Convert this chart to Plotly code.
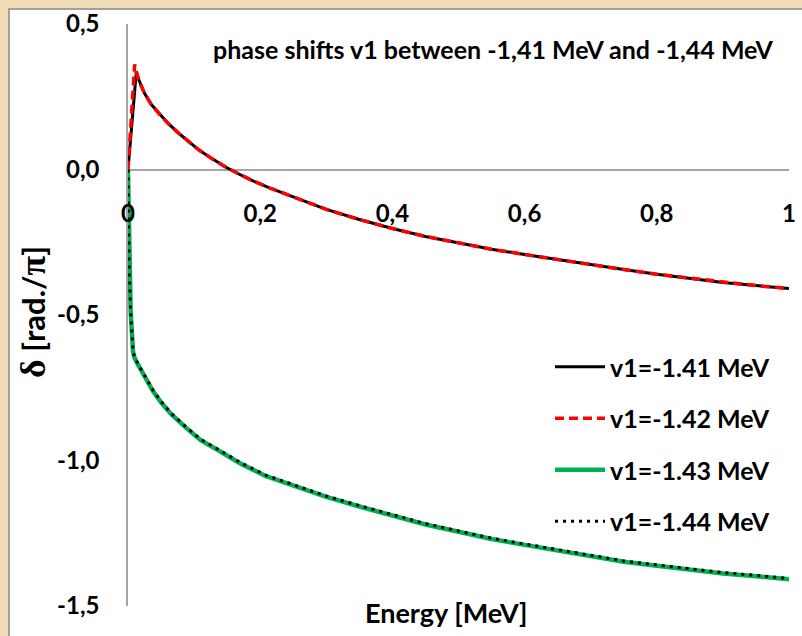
import plotly.graph_objects as go

# ---------------- data ----------------
e_141 = [0, 0.004, 0.008, 0.0127, 0.016, 0.02, 0.025, 0.035, 0.048, 0.06, 0.078, 0.09,
         0.108, 0.125, 0.149, 0.17, 0.189, 0.214, 0.25, 0.3, 0.35, 0.4, 0.45, 0.5, 0.55,
         0.6, 0.65, 0.7, 0.75, 0.8, 0.85, 0.9, 0.95, 1.0]
d_141 = [0, 0.11, 0.22, 0.338, 0.31, 0.287, 0.262, 0.224, 0.189, 0.16, 0.122, 0.099,
         0.066, 0.04, 0.007, -0.018, -0.039, -0.063, -0.095, -0.137, -0.172, -0.203,
         -0.23, -0.253, -0.274, -0.292, -0.31, -0.327, -0.344, -0.36, -0.374, -0.388,
         -0.399, -0.409]

e_142 = [0, 0.003, 0.006, 0.0101, 0.013, 0.016, 0.02, 0.025, 0.035, 0.048, 0.06, 0.078,
         0.09, 0.108, 0.125, 0.149, 0.17, 0.189, 0.214, 0.25, 0.3, 0.35, 0.4, 0.45, 0.5,
         0.55, 0.6, 0.65, 0.7, 0.75, 0.8, 0.85, 0.9, 0.95, 1.0]
d_142 = [0, 0.11, 0.22, 0.361, 0.33, 0.31, 0.287, 0.262, 0.224, 0.189, 0.16, 0.122,
         0.099, 0.066, 0.04, 0.007, -0.018, -0.039, -0.063, -0.095, -0.137, -0.172,
         -0.203, -0.23, -0.253, -0.274, -0.292, -0.31, -0.327, -0.344, -0.36, -0.374,
         -0.388, -0.399, -0.409]

e_143 = [0, 0.0015, 0.004, 0.0076, 0.010, 0.015, 0.02, 0.03, 0.038, 0.05, 0.065, 0.088,
         0.11, 0.139, 0.17, 0.209, 0.25, 0.3, 0.35, 0.4, 0.45, 0.5, 0.55, 0.6, 0.65, 0.7,
         0.75, 0.8, 0.85, 0.9, 0.95, 1.0]
d_143 = [0, -0.315, -0.487, -0.625, -0.648, -0.67, -0.69, -0.73, -0.762, -0.8, -0.84,
         -0.888, -0.93, -0.968, -1.01, -1.054, -1.087, -1.125, -1.158, -1.19, -1.22,
         -1.245, -1.27, -1.29, -1.31, -1.33, -1.348, -1.362, -1.376, -1.388, -1.398, -1.408]

e_144 = [0, 0.0015, 0.004, 0.0076, 0.010, 0.015, 0.02, 0.03, 0.038, 0.05, 0.065, 0.088,
         0.11, 0.139, 0.17, 0.209, 0.25, 0.3, 0.35, 0.4, 0.45, 0.5, 0.55, 0.6, 0.65, 0.7,
         0.75, 0.8, 0.85, 0.9, 0.95, 1.0]
d_144 = [0, -0.315, -0.487, -0.625, -0.646, -0.668, -0.688, -0.727, -0.759, -0.797, -0.837,
         -0.885, -0.927, -0.965, -1.007, -1.051, -1.084, -1.122, -1.155, -1.187, -1.217,
         -1.242, -1.267, -1.287, -1.307, -1.327, -1.345, -1.359, -1.373, -1.385, -1.395,
         -1.405]

series_names = ["v1=-1.41 MeV", "v1=-1.42 MeV", "v1=-1.43 MeV", "v1=-1.44 MeV"]

x_tickvals = [0, 0.2, 0.4, 0.6, 0.8, 1.0]
x_ticktext = ["0", "0,2", "0,4", "0,6", "0,8", "1"]
y_tickvals = [0.5, 0.0, -0.5, -1.0, -1.5]
y_ticktext = ["0,5", "0,0", "-0,5", "-1,0", "-1,5"]

title_text = "phase shifts v1 between -1,41 MeV and -1,44 MeV"
x_title = "Energy [MeV]"
y_title = ("<span style='font-family:Liberation Serif;font-size:36px'>δ</span> [rad./"
           "<span style='font-family:Liberation Serif;font-size:36px'>π</span>]")

# ---------------- layout geometry ----------------
# the page body keeps an 8px margin at top/left, so the figure starts at (8, 8)
OFF = 8
W, H = 802 - OFF, 636 - OFF
ML, MR, MT, MB = 120, 13, 16, 30
PW, PH = W - ML - MR, H - MT - MB


def px(x):
    """page pixel x -> paper fraction"""
    return (x - OFF - ML) / PW


def py(y):
    """page pixel y -> paper fraction"""
    return (H - MB - (y - OFF)) / PH


FONT = "Lato"
fig = go.Figure()

styles = [
    dict(color="#000000", width=3, dash="solid"),
    dict(color="#ff0000", width=3.5, dash="9px,5px"),
    dict(color="#00b050", width=4.5, dash="solid"),
    dict(color="#000000", width=3, dash="3px,5px"),
]
datasets = [(e_141, d_141), (e_142, d_142), (e_143, d_143), (e_144, d_144)]

for name, (xs, ys), st in zip(series_names, datasets, styles):
    fig.add_trace(go.Scatter(x=xs, y=ys, mode="lines", name=name, line=st,
                             legendgroup=name))

fig.update_layout(
    width=W, height=H,
    margin=dict(l=ML, r=MR, t=MT, b=MB, autoexpand=False),
    paper_bgcolor="white", plot_bgcolor="white",
    font=dict(family=FONT, color="black", size=24),
    showlegend=True,
    legend=dict(x=px(775), xanchor="right", y=py(344), yanchor="top",
                font=dict(family=FONT, size=25, color="black", weight="bold"),
                bgcolor="rgba(0,0,0,0)", tracegroupgap=16, itemwidth=50),
    xaxis=dict(range=[0, 1], tickvals=x_tickvals, ticktext=x_ticktext,
               anchor="free", position=0.75, showline=False, zeroline=False,
               showgrid=False, ticks="", ticklabelstandoff=27, automargin=False,
               tickfont=dict(family=FONT, size=24, weight="bold")),
    yaxis=dict(range=[-1.5, 0.5], tickvals=y_tickvals, ticktext=y_ticktext,
               showline=True, linecolor="#a6a6a6", linewidth=1.5,
               zeroline=True, zerolinecolor="#a6a6a6", zerolinewidth=1.5,
               showgrid=False, ticks="", ticklabelstandoff=22, automargin=False,
               tickfont=dict(family=FONT, size=24, weight="bold")),
)

fig.add_annotation(text=title_text, xref="paper", yref="paper", x=px(775), y=py(49),
                   xanchor="right", yanchor="middle", showarrow=False,
                   font=dict(family=FONT, size=25, weight="bold"))
fig.add_annotation(text=x_title, xref="paper", yref="paper", x=px(446), y=py(612),
                   xanchor="center", yanchor="middle", showarrow=False,
                   font=dict(family=FONT, size=27, weight="bold"))
fig.add_annotation(text=y_title, xref="paper", yref="paper", x=px(33), y=py(312),
                   xanchor="center", yanchor="middle", showarrow=False, textangle=-90,
                   font=dict(family=FONT, size=31, weight="bold"))

# grey frame on the top / left edge of the chart area
fig.add_shape(type="line", xref="paper", yref="paper", x0=px(9), x1=px(9),
              y0=py(640), y1=py(8), line=dict(color="#a0a0a0", width=2))
fig.add_shape(type="line", xref="paper", yref="paper", x0=px(8), x1=px(806),
              y0=py(9), y1=py(9), line=dict(color="#a0a0a0", width=2))

fig.write_html(
    "out.html",
    post_script=("document.body.style.background='#efdcb2';"
                 "document.body.style.margin='8px 0 0 8px';"
                 "document.body.style.overflow='hidden';"),
)
